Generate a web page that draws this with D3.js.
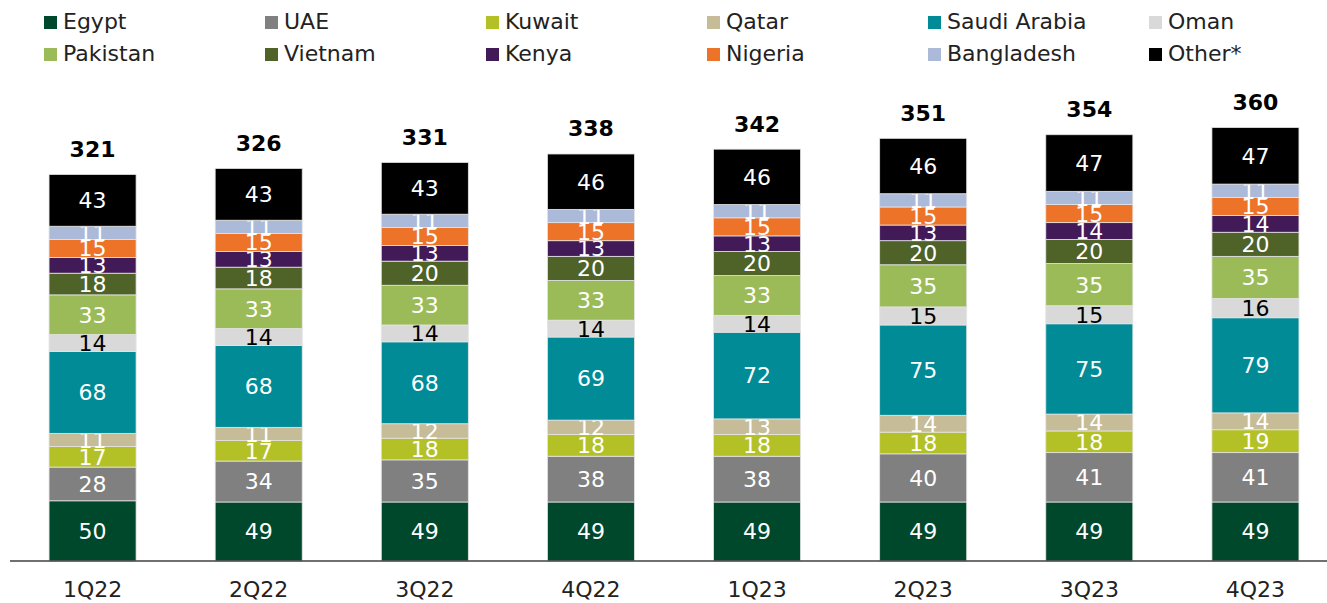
<!DOCTYPE html>
<html>
<head>
<meta charset="utf-8">
<script src="https://cdn.jsdelivr.net/npm/d3@7"></script>
<style>
  body { margin: 0; background: #fff; }
  svg { display: block; font-family: "DejaVu Sans", sans-serif; }
</style>
</head>
<body>
<svg id="chart" width="1327" height="603"></svg>
<script>
// quarters on the x axis
const quarters = ["1Q22", "2Q22", "3Q22", "4Q22", "1Q23", "2Q23", "3Q23", "4Q23"];

// one array per country, bottom of the stack first
const egypt      = [50, 49, 49, 49, 49, 49, 49, 49];
const uae        = [28, 34, 35, 38, 38, 40, 41, 41];
const kuwait     = [17, 17, 18, 18, 18, 18, 18, 19];
const qatar      = [11, 11, 12, 12, 13, 14, 14, 14];
const saudi      = [68, 68, 68, 69, 72, 75, 75, 79];
const oman       = [14, 14, 14, 14, 14, 15, 15, 16];
const pakistan   = [33, 33, 33, 33, 33, 35, 35, 35];
const vietnam    = [18, 18, 20, 20, 20, 20, 20, 20];
const kenya      = [13, 13, 13, 13, 13, 13, 14, 14];
const nigeria    = [15, 15, 15, 15, 15, 15, 15, 15];
const bangladesh = [11, 11, 11, 11, 11, 11, 11, 11];
const other      = [43, 43, 43, 46, 46, 46, 47, 47];

const totals = [321, 326, 331, 338, 342, 351, 354, 360];

const series = [
  { name: "Egypt", values: egypt, color: "#00482b", text: "#fff" },
  { name: "UAE", values: uae, color: "#808080", text: "#fff" },
  { name: "Kuwait", values: kuwait, color: "#b4c126", text: "#fff" },
  { name: "Qatar", values: qatar, color: "#c6bd98", text: "#fff" },
  { name: "Saudi Arabia", values: saudi, color: "#008b97", text: "#fff" },
  { name: "Oman", values: oman, color: "#d9d9d9", text: "#000" },
  { name: "Pakistan", values: pakistan, color: "#9bbb59", text: "#fff" },
  { name: "Vietnam", values: vietnam, color: "#4f6228", text: "#fff" },
  { name: "Kenya", values: kenya, color: "#421a58", text: "#fff" },
  { name: "Nigeria", values: nigeria, color: "#ed7328", text: "#fff" },
  { name: "Bangladesh", values: bangladesh, color: "#abbad8", text: "#fff" },
  { name: "Other*", values: other, color: "#000000", text: "#fff" }
];

// legend order (two rows of six)
const legendOrder = ["Egypt", "UAE", "Kuwait", "Qatar", "Saudi Arabia", "Oman",
  "Pakistan", "Vietnam", "Kenya", "Nigeria", "Bangladesh", "Other*"];

const svg = d3.select("#chart");

const rows = quarters.map((q, i) => {
  const r = { q: q };
  series.forEach((s) => { r[s.name] = s.values[i]; });
  return r;
});

const stacked = d3.stack().keys(series.map((s) => s.name))(rows);

const x = d3.scaleBand()
  .domain(quarters)
  .range([9.5, 1338.5])
  .paddingInner(0.476)
  .paddingOuter(0.238);

const y = d3.scaleLinear().domain([0, 360]).range([561, 127.5]);

const groups = svg.selectAll("g.layer")
  .data(stacked)
  .enter()
  .append("g")
  .attr("class", "layer");

groups.each(function (layer, li) {
  const s = series[li];
  const g = d3.select(this);
  g.selectAll("rect")
    .data(layer)
    .enter()
    .append("rect")
    .attr("x", (d) => x(d.data.q))
    .attr("y", (d) => y(d[1]))
    .attr("width", x.bandwidth())
    .attr("height", (d) => y(d[0]) - y(d[1]))
    .attr("fill", s.color)
    .attr("stroke", "#e4e4e4")
    .attr("stroke-width", 0.8);
});

// segment labels drawn after all rects so they sit on top
groups.each(function (layer, li) {
  const s = series[li];
  d3.select(this).selectAll("text")
    .data(layer)
    .enter()
    .append("text")
    .attr("x", (d) => x(d.data.q) + x.bandwidth() / 2)
    .attr("y", (d) => (y(d[0]) + y(d[1])) / 2)
    .attr("dy", "0.36em")
    .attr("text-anchor", "middle")
    .attr("font-size", 22)
    .attr("fill", s.text)
    .text((d) => d[1] - d[0]);
});

// totals
svg.selectAll("text.total")
  .data(quarters)
  .enter()
  .append("text")
  .attr("class", "total")
  .attr("x", (q) => x(q) + x.bandwidth() / 2)
  .attr("y", (q, i) => y(totals[i]) - 17.5)
  .attr("text-anchor", "middle")
  .attr("font-size", 22)
  .attr("font-weight", "bold")
  .attr("fill", "#000")
  .text((q, i) => totals[i]);

// x axis
const xAxis = svg.append("g")
  .attr("transform", "translate(0,561)")
  .call(d3.axisBottom(x).tickSize(0).tickPadding(0).tickSizeOuter(0));
xAxis.select(".domain").remove();
xAxis.append("line")
  .attr("x1", 10).attr("x2", 1327)
  .attr("stroke", "#404040").attr("stroke-width", 1.5);
xAxis.selectAll(".tick text")
  .attr("y", 36)
  .attr("dy", null)
  .attr("font-size", 22)
  .attr("font-family", "DejaVu Sans, sans-serif")
  .attr("fill", "#222");

// legend
const legend = svg.append("g");
const legendItems = legend.selectAll("g")
  .data(legendOrder)
  .enter()
  .append("g")
  .attr("transform", (n, i) => `translate(${44 + (i % 6) * 221},${i < 6 ? 16 : 48})`);
legendItems.append("rect")
  .attr("width", 13).attr("height", 13)
  .attr("fill", (n) => series.find((s) => s.name === n).color);
legendItems.append("text")
  .attr("x", 19)
  .attr("y", 13)
  .attr("font-size", 22)
  .attr("fill", "#222")
  .text((n) => n);
</script>
</body>
</html>
